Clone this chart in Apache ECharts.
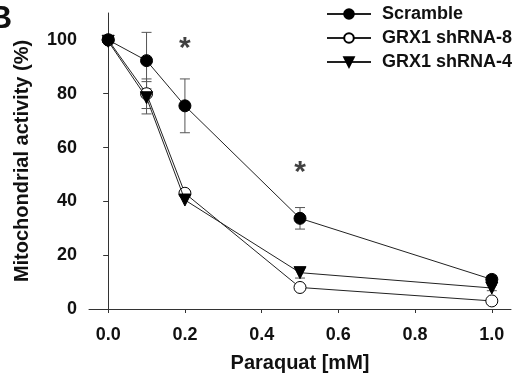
<!DOCTYPE html>
<html><head><meta charset="utf-8">
<script src="https://cdn.jsdelivr.net/npm/echarts@6/dist/echarts.min.js"></script>
<style>html,body{margin:0;padding:0;background:#fff}#c{width:519px;height:384px}</style>
</head><body><div id="c"></div>
<script>
const doses = [0, 0.1, 0.2, 0.5, 1.0];
const scramble = [100, 92.3, 75.5, 33.7, 11];
const scrambleErr = [0, 10.5, 10, 4, 1.5];
const sh8 = [100, 80, 43, 8, 3];
const sh8Err = [0, 5.5, 0, 0, 0];
const sh4 = [99.5, 78.5, 40.5, 13.5, 7.8];
const sh4Err = [0, 6, 0, 2, 1];
const yTicks = [0, 20, 40, 60, 80, 100];
const xTicks = [0, 0.2, 0.4, 0.6, 0.8, 1.0];
const stars = [[0.2, 98.8], [0.5, 52.9]];
const names = ['Scramble', 'GRX1 shRNA-8', 'GRX1 shRNA-4'];

const FONT = 'Liberation Sans, Arial, sans-serif';
const chart = echarts.init(document.getElementById('c'), null, {renderer: 'canvas'});

function pairs(vals) { return doses.map((d, i) => [d, vals[i]]); }
function errData(vals, errs) {
  const out = [];
  doses.forEach((d, i) => { if (errs[i] > 0) out.push([d, vals[i] - errs[i], vals[i] + errs[i]]); });
  return out;
}
function errSeries(vals, errs) {
  return {
    type: 'custom', z: 1, silent: true,
    data: errData(vals, errs),
    renderItem: function (params, api) {
      const lo = api.coord([api.value(0), api.value(1)]);
      const hi = api.coord([api.value(0), api.value(2)]);
      const w = 5;
      const st = {stroke: '#555', lineWidth: 1};
      return {type: 'group', children: [
        {type: 'line', shape: {x1: lo[0], y1: lo[1], x2: hi[0], y2: hi[1]}, style: st},
        {type: 'line', shape: {x1: lo[0] - w, y1: lo[1], x2: lo[0] + w, y2: lo[1]}, style: st},
        {type: 'line', shape: {x1: hi[0] - w, y1: hi[1], x2: hi[0] + w, y2: hi[1]}, style: st}
      ]};
    }
  };
}
const lineStyle = {color: '#222', width: 1};

chart.setOption({
  backgroundColor: '#fff',
  animation: false,
  grid: {left: 89, right: 8, top: 13, bottom: 75, containLabel: false},
  legend: {
    orient: 'vertical', left: 326, top: 5, padding: 0, itemWidth: 44, itemHeight: 12, itemGap: 6,
    data: names,
    textStyle: {fontFamily: FONT, fontWeight: 'bold', fontSize: 18, color: '#111', padding: [0, 0, 0, 6]}
  },
  graphic: [{type: 'text', left: -11, top: 3, style: {text: 'B', font: 'bold 32px ' + FONT, fill: '#111'}}],
  xAxis: {
    type: 'value', min: -0.05, max: 1.05,
    name: 'Paraquat [mM]', nameLocation: 'middle', nameGap: 44,
    nameTextStyle: {fontFamily: FONT, fontWeight: 'bold', fontSize: 20, color: '#111'},
    axisLine: {lineStyle: {color: '#333', width: 1}},
    axisTick: {show: true, length: 4, customValues: xTicks, lineStyle: {color: '#333'}},
    axisLabel: {customValues: xTicks, margin: 17, fontFamily: FONT, fontWeight: 'bold', fontSize: 18, color: '#111',
      formatter: v => v.toFixed(1)},
    splitLine: {show: false}
  },
  yAxis: {
    type: 'value', min: 0, max: 110,
    name: 'Mitochondrial activity (%)', nameLocation: 'middle', nameGap: 57,
    nameTextStyle: {fontFamily: FONT, fontWeight: 'bold', fontSize: 20, color: '#111'},
    axisLine: {show: true, lineStyle: {color: '#333', width: 1}},
    axisTick: {show: true, length: 5, customValues: yTicks, lineStyle: {color: '#333'}},
    axisLabel: {customValues: yTicks, margin: 12, fontFamily: FONT, fontWeight: 'bold', fontSize: 18, color: '#111'},
    splitLine: {show: false}
  },
  series: [
    errSeries(scramble, scrambleErr),
    errSeries(sh8, sh8Err),
    errSeries(sh4, sh4Err),
    {name: names[0], type: 'line', z: 4, data: pairs(scramble), symbol: 'circle', symbolSize: 12,
      lineStyle: lineStyle, itemStyle: {color: '#000', borderColor: '#000', borderWidth: 1}},
    {name: names[1], type: 'line', z: 3, data: pairs(sh8), symbol: 'circle', symbolSize: 12,
      lineStyle: lineStyle, itemStyle: {color: '#fff', borderColor: '#000', borderWidth: 1}},
    {name: names[2], type: 'line', z: 5, data: pairs(sh4), symbol: 'triangle', symbolSize: 12, symbolRotate: 180,
      lineStyle: lineStyle, itemStyle: {color: '#000', borderColor: '#000', borderWidth: 1}},
    {type: 'scatter', z: 6, silent: true, data: stars, symbolSize: 0,
      label: {show: true, position: 'inside', formatter: '*', offset: [0, 6],
        fontFamily: FONT, fontWeight: 'bold', fontSize: 30, color: '#111'}}
  ]
});
</script></body></html>
